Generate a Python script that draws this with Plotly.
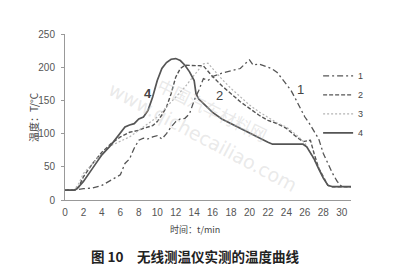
import plotly.graph_objects as go

# Curve 1 (dash-dot)
x1 = [0, 1, 2, 3, 4, 5, 6, 6.5, 7, 7.5, 8, 8.5, 9, 9.5, 10, 10.5, 11, 11.5, 12, 12.5, 13, 13.5,
      14, 14.5, 15, 15.5, 16, 17, 18, 19, 19.5, 20, 20.4, 21, 22, 22.5, 23, 23.5, 24, 24.5,
      25, 25.5, 26, 26.5, 27, 27.5, 28, 28.5, 29, 29.5, 30, 31]
y1 = [15, 15, 17, 18, 22, 30, 38, 55, 62, 78, 90, 93, 92, 95, 97, 92, 100, 110, 118, 122, 123, 130,
      150, 165, 183, 180, 186, 191, 195, 198, 205, 211, 203, 205, 200, 197, 192, 183, 175, 165,
      152, 138, 125, 115, 103, 92, 70, 55, 40, 28, 20, 20]

# Curve 2 (dashed)
x2 = [0, 1, 1.5, 2, 3, 4, 5, 5.5, 6, 7, 8, 8.5, 9, 9.5, 10, 10.5, 11, 11.5, 12, 12.5, 13, 14,
      15, 16, 17, 18, 19, 20, 21, 22, 23, 24, 25, 25.8, 26.6, 27, 27.5, 28, 28.5, 29, 31]
y2 = [15, 15, 20, 35, 55, 72, 85, 90, 95, 102, 105, 108, 110, 112, 118, 128, 140, 160, 185, 198, 203, 203,
      202, 186, 172, 160, 148, 138, 128, 120, 115, 108, 96, 88, 90, 70, 48, 35, 22, 20, 20]

# Curve 3 (dotted)
x3 = [0, 1, 1.5, 2, 3, 4, 5, 6, 7, 8, 9, 10, 11, 12, 13, 14, 15, 15.5, 16, 17, 18, 19, 20,
      21, 22, 23, 24, 25, 26, 27, 28, 28.5, 29, 31]
y3 = [15, 15, 25, 40, 55, 70, 82, 88, 95, 105, 115, 125, 140, 155, 170, 188, 205, 206, 198, 182, 168, 155, 143,
      133, 124, 116, 110, 99, 86, 60, 35, 22, 20, 20]

# Curve 4 (solid)
x4 = [0, 1, 1.3, 2, 3, 4, 5, 5.5, 6, 6.5, 7, 7.5, 8, 8.5, 9, 9.5, 10, 10.5, 11, 11.5, 12, 12.5,
      13, 13.5, 14, 14.2, 14.5, 15, 16, 17, 18, 19, 20, 21, 22, 22.5, 25.8, 26.2, 27, 27.5, 28,
      28.5, 29, 31]
y4 = [15, 15, 17, 28, 48, 68, 83, 92, 100, 110, 113, 115, 122, 125, 135, 155, 180, 198, 207, 212, 213, 210,
      203, 193, 180, 160, 152, 145, 132, 122, 115, 107, 100, 93, 87, 84, 84, 80, 62, 47, 33,
      22, 20, 20]

names = ["1", "2", "3", "4"]
x_ticks = list(range(0, 31, 2))
y_ticks = [0, 50, 100, 150, 200, 250]

fig = go.Figure()
styles = [
    dict(color="#555555", width=1.3, dash="6px,3px,2px,3px"),
    dict(color="#555555", width=1.4, dash="4px,2px"),
    dict(color="#b4b4b4", width=1.2, dash="2px,2px"),
    dict(color="#555555", width=1.7),
]
for xs, ys, nm, st in zip([x1, x2, x3, x4], [y1, y2, y3, y4], names, styles):
    fig.add_trace(go.Scatter(x=xs, y=ys, mode="lines", name=nm, line=st))

font_main = "Liberation Sans, DejaVu Sans, sans-serif"
cjk = "Noto Sans CJK SC, sans-serif"

fig.update_layout(
    width=406, height=266,
    margin=dict(l=65, r=55, t=34, b=66),
    paper_bgcolor="white", plot_bgcolor="white",
    font=dict(family=font_main, size=10, color="#444444"),
    showlegend=True,
    legend=dict(x=0.885, y=0.835, xanchor="left", yanchor="top",
                bgcolor="rgba(0,0,0,0)", font=dict(size=9, color="#444444"),
                itemwidth=30, tracegroupgap=0),
    xaxis=dict(range=[0, 31], tickvals=x_ticks, showgrid=False, zeroline=False,
               showline=True, linecolor="#999999", linewidth=1, ticks="",
               ticklabelstandoff=3, tickfont=dict(size=10, color="#555555")),
    yaxis=dict(range=[0, 250], tickvals=y_ticks, showgrid=False, zeroline=False,
               showline=True, linecolor="#999999", linewidth=1, ticks="outside",
               ticklen=3, tickcolor="#999999", ticklabelstandoff=4,
               tickfont=dict(size=10, color="#555555")),
)

# watermark
fig.add_annotation(text="www.qichecailiao.com", xref="paper", yref="paper",
                   x=0.483, y=0.38, xanchor="center", yanchor="middle",
                   showarrow=False, textangle=28,
                   font=dict(family="DejaVu Sans, sans-serif", size=19, color="rgba(200,200,200,0.4)"))
fig.add_annotation(text="中国汽车材料网", xref="paper", yref="paper",
                   x=0.517, y=0.545, xanchor="center", yanchor="middle",
                   showarrow=False, textangle=26,
                   font=dict(family=cjk, size=17, color="rgba(200,200,200,0.4)"))

# curve labels
fig.add_annotation(text="<b>4</b>", x=8.95, y=161, showarrow=False,
                   font=dict(size=13, color="#444444"))
fig.add_annotation(text="2", x=16.8, y=158, showarrow=False,
                   font=dict(size=13, color="#444444"))
fig.add_annotation(text="1", x=25.5, y=166, showarrow=False,
                   font=dict(size=13, color="#444444"))

# axis titles
fig.add_annotation(text="温度：T/°C", xref="paper", yref="paper", x=-0.112, y=0.5,
                   xanchor="center", yanchor="middle",
                   showarrow=False, textangle=-90,
                   font=dict(family=cjk, size=10, color="#444444"))
fig.add_annotation(text="时间：t/min", xref="paper", yref="paper", x=0.455, y=-0.178,
                   xanchor="center", yanchor="middle",
                   showarrow=False, font=dict(family=cjk, size=9, color="#444444"))
# caption
fig.add_annotation(text="<b>图 10　无线测温仪实测的温度曲线</b>", xref="paper", yref="paper",
                   x=0.455, y=-0.337, xanchor="center", yanchor="middle", showarrow=False,
                   font=dict(family=cjk, size=13.5, color="#222222"))

fig.write_html("out.html")
